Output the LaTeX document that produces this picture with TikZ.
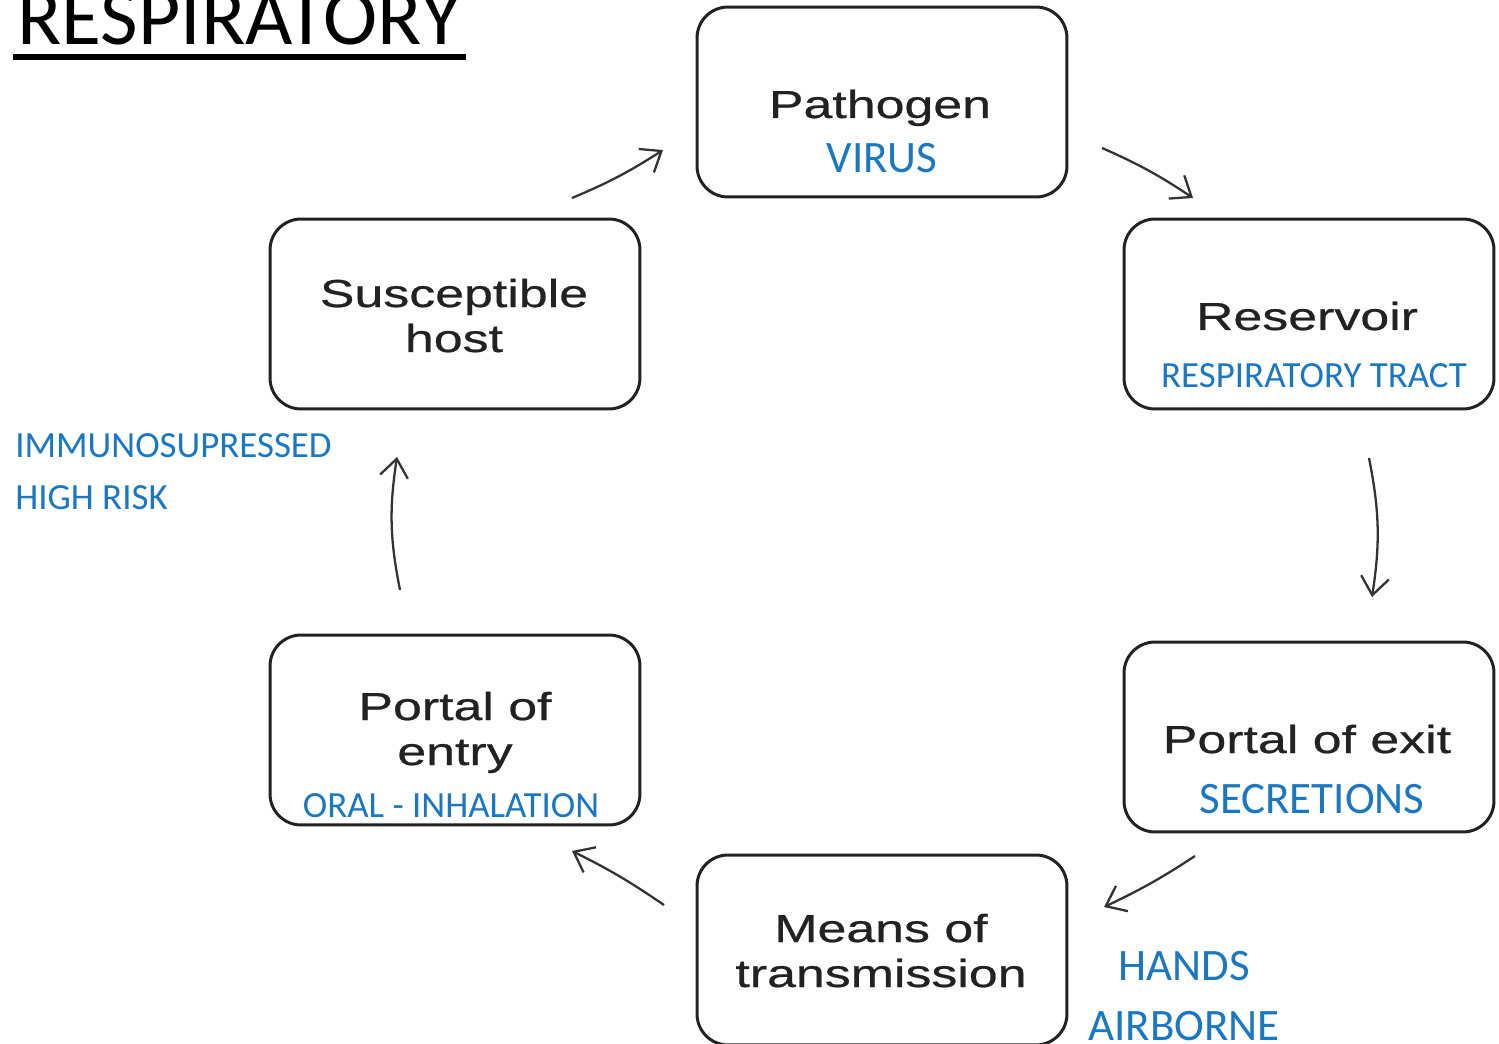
\documentclass[tikz,border=0pt]{standalone}
\usepackage{fontspec}
\setmainfont{Carlito}
\newfontfamily\boxfont[FakeStretch=1.33,FakeBold=0.6]{Liberation Sans}
\usetikzlibrary{arrows.meta,positioning,calc}
\definecolor{tagblue}{HTML}{1A78C2}
\definecolor{boxgray}{HTML}{222222}
\definecolor{arrgray}{HTML}{333333}

\begin{document}
\begin{tikzpicture}[x=0.02cm,y=-0.02cm,
    bx/.style={draw=boxgray,line width=1.7pt,rounded corners=0.62cm,minimum width=7.4cm,minimum height=3.8cm,inner sep=0pt},
    tx/.style={font=\boxfont\fontsize{22.2}{25.6}\selectfont,text=boxgray,align=center,inner sep=0pt,anchor=base},
    tag/.style={font=\fontsize{21}{25}\selectfont,text=tagblue,inner sep=0pt,anchor=base},
    bigtag/.style={font=\fontsize{25.6}{30}\selectfont,text=tagblue,inner sep=0pt,anchor=base},
    ar/.style={-{Straight Barb[length=3.6mm,width=5.6mm]},line width=1.3pt,draw=arrgray}
]
\useasboundingbox (0,0) rectangle (1499,1044);

% title
\node[font=\fontsize{46.5}{52}\selectfont,inner sep=0pt,anchor=base west] (title) at (17,45) {RESPIRATORY};
\draw[line width=3pt] ($(title.base west)+(-4,12)$) -- ($(title.base east)+(5,12)$);

% the six boxes
\node[bx] (path) at (882,102) {};
\node[bx] (res) at (1309,314) {};
\node[bx] (exit) at (1309,737) {};
\node[bx] (means) at (882,950) {};
\node[bx] (entry) at (455,730) {};
\node[bx] (host) at (455,314) {};

% box texts
\node[tx] (pathtxt) at ($(path)+(-2,16)$) {Pathogen};
\node[bigtag] (virus) at ($(path)+(0,71)$) {VIRUS};
\node[tx] (restxt) at ($(res)+(-2,16)$) {Reservoir};
\node[tag] (tract) at ($(res)+(5,74)$) {RESPIRATORY TRACT};
\node[tx] (exittxt) at ($(exit)+(-2,16)$) {Portal of exit};
\node[bigtag] (secr) at ($(exit)+(3,76)$) {SECRETIONS};
\node[tx] (meanstxt) at ($(means)+(-1,37)$) {Means of\\transmission};
\node[tx] (entrytxt) at ($(entry)+(0,35)$) {Portal of\\entry};
\node[tag] (oral) at ($(entry)+(-4,87)$) {ORAL - INHALATION};
\node[tx] (hosttxt) at ($(host)+(-1,38)$) {Susceptible\\host};

% side notes
\node[tag,anchor=base west,align=left,font=\fontsize{21}{29.2}\selectfont] (risk) at (15,509) {IMMUNOSUPRESSED\\HIGH RISK};
\node[bigtag,anchor=base west] (hands) at (1118,980) {HANDS};
\node[bigtag,anchor=base west] (air) at (1088,1040) {AIRBORNE};

% cycle arrows
\coordinate (a1) at (572,198); \coordinate (b1) at (663,150);
\coordinate (a2) at (1102,148); \coordinate (b2) at (1193,198);
\coordinate (a3) at (1369,458); \coordinate (b3) at (1372,597);
\coordinate (a4) at (1195,856); \coordinate (b4) at (1104,907);
\coordinate (a5) at (664,905); \coordinate (b5) at (572,851);
\coordinate (a6) at (400,590); \coordinate (b6) at (397,457);
\draw[ar] (a1) to[bend right=5] (b1);
\draw[ar] (a2) to[bend left=5] (b2);
\draw[ar] (a3) to[bend left=10] (b3);
\draw[ar] (a4) to[bend left=4] (b4);
\draw[ar] (a5) to[bend right=4] (b5);
\draw[ar] (a6) to[bend left=10] (b6);
\end{tikzpicture}
\end{document}
